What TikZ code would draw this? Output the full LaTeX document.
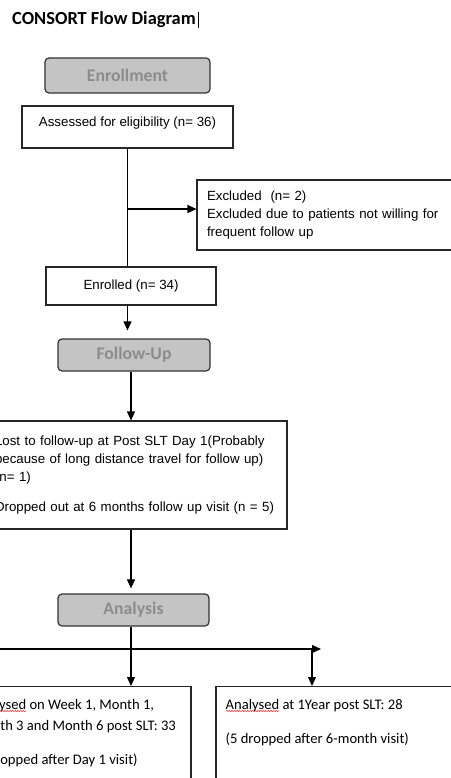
\documentclass[tikz,border=0pt]{standalone}
\usepackage{fontspec}
\setmainfont{Liberation Sans}
\newfontfamily\calibri{Carlito}
\usetikzlibrary{positioning,arrows.meta,decorations.pathmorphing}

\begin{document}
\begin{tikzpicture}[x=1pt, y=-1pt,
    box/.style={draw=black!85, line width=1.1pt, inner sep=0pt,
      font=\fontsize{13.3}{18}\selectfont},
    phase/.style={draw=black!80, line width=1.2pt, rounded corners=4pt,
      fill=black!23, text=black!45, font=\calibri\bfseries\fontsize{17.7}{20}\selectfont},
    boxtext/.style={inner sep=0pt, align=left, font=\calibri\fontsize{14.6}{21}\selectfont},
    arr/.style={-{Triangle[length=9pt,width=8pt]}, line width=1.1pt},
    spell/.style={red!75, line width=0.6pt, decorate,
      decoration={snake, amplitude=0.7pt, segment length=2.6pt}}]
  \useasboundingbox (0,0) rectangle (450,778);

  \node[anchor=base west, inner sep=0pt, font=\calibri\bfseries\fontsize{18.4}{22}\selectfont]
    (title) at (12,24.5) {CONSORT Flow Diagram};
  \draw[line width=0.8pt] (198,12) -- (198,28);

  \node[phase, minimum width=165pt, minimum height=35pt] (enroll) at (127.5,75.5) {Enrollment};
  \node[box, minimum width=211pt, minimum height=42pt, text height=9pt, text depth=9pt]
    (assess) at (127.5,127) {Assessed for eligibility (n= 36)};
  \node[box, minimum width=263pt, minimum height=70pt, align=left, text width=243pt]
    (excl) at (328.5,215) {Excluded\ \ (n= 2)\\Excluded due to patients not willing for\\frequent follow up};
  \node[box, minimum width=170pt, minimum height=38pt] (enrol) at (131,286) {Enrolled (n= 34)};

  \node[phase, minimum width=152pt, minimum height=32pt] (follow) at (134,355) {Follow-Up};
  \node[box, minimum width=302pt, minimum height=108pt, align=left, text width=282pt]
    (lost) at (136,475) {Lost to follow-up at Post SLT Day 1(Probably\\because of long distance travel for follow up)\\(n= 1)\\[12pt]Dropped out at 6 months follow up visit (n = 5)};

  \node[phase, minimum width=151pt, minimum height=32pt] (analysis) at (133.5,610) {Analysis};
  \node[box, minimum width=228pt, minimum height=120pt, anchor=north] (week) at (77,686) {};
  \node[box, minimum width=254pt, minimum height=120pt, anchor=north] (year) at (343,686) {};
  \node[boxtext, below right=13pt and 10pt of week.north west] (weektxt)
    {Analysed on Week 1, Month 1,\\Month 3 and Month 6 post SLT: 33\\[13pt](1 dropped after Day 1 visit)};
  \node[boxtext, below right=13pt and 10pt of year.north west] (yeartxt)
    {Analysed at 1Year post SLT: 28\\[13pt](5 dropped after 6-month visit)};
  \draw[spell] (-27,711) -- (26,711);
  \draw[spell] (226,711) -- (279,711);

  % connectors
  \coordinate (spine) at (131,0);
  \coordinate (split) at (127.5,209);
  \coordinate (hl) at (-10,649);
  \coordinate (hr) at (321,649);
  \coordinate (drop) at (312,649);
  \draw[line width=1.1pt] (assess.south) -- (assess.south |- enrol.north);
  \draw[arr] (split) -- (split -| excl.west);
  \draw[arr, shorten >=8pt] (assess.south |- enrol.south) -- (assess.south |- follow.north);
  \draw[arr] (spine |- follow.south) -- (spine |- lost.north);
  \draw[arr, shorten >=5pt] (spine |- lost.south) -- (spine |- analysis.north);
  \draw[arr] (spine |- analysis.south) -- (spine |- week.north);
  \draw[arr] (hl) -- (hr);
  \draw[arr] (drop) -- (drop |- year.north);
\end{tikzpicture}
\end{document}
